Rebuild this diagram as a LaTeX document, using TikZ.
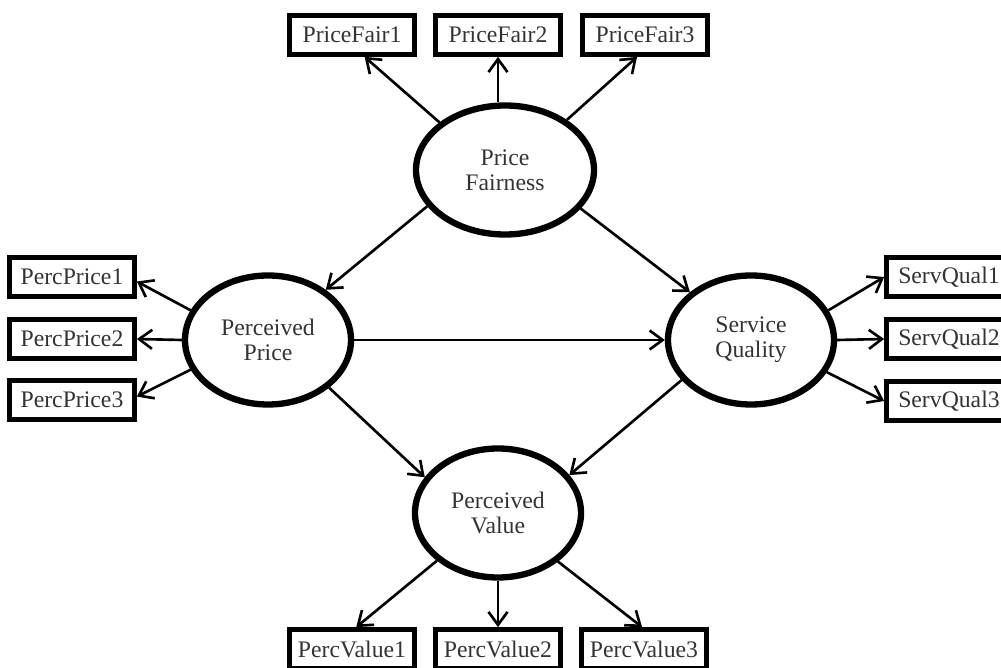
\documentclass[tikz,border=0pt]{standalone}
\usepackage{fontspec}
\setmainfont{Liberation Serif}
\usetikzlibrary{arrows.meta,shapes.geometric}

\begin{document}
\begin{tikzpicture}[
  latent/.style={ellipse,draw,line width=3.6pt,inner sep=0pt,align=center,
    minimum width=3.32cm,minimum height=2.58cm,
    font=\fontsize{13.5}{14.2}\selectfont,text=black!80},
  item/.style={rectangle,draw,line width=2.7pt,inner sep=0pt,
    minimum width=2.5cm,minimum height=0.78cm,
    font=\fontsize{13.5}{14.2}\selectfont,text=black!80},
  arr/.style={-{Straight Barb[length=2.6mm,width=3.8mm]},line width=1.5pt}
]
\useasboundingbox (0,0) rectangle (20.02,13.36);

% Constructs
\node[latent,minimum width=3.56cm] (pf) at (10.10,9.96) {Price\\Fairness};
\node[latent] (pp) at (5.36,6.56) {Perceived\\Price};
\node[latent] (sq) at (15.02,6.56) {Service\\Quality};
\node[latent] (pv) at (9.96,3.10) {Perceived\\Value};

% Indicators
\node[item] (pf1) at (7.04,12.66) {PriceFair1};
\node[item] (pf2) at (9.96,12.66) {PriceFair2};
\node[item] (pf3) at (12.90,12.66) {PriceFair3};
\node[item] (ppr1) at (1.44,7.82) {PercPrice1};
\node[item] (ppr2) at (1.44,6.58) {PercPrice2};
\node[item] (ppr3) at (1.44,5.36) {PercPrice3};
\node[item] (sq1) at (18.98,7.82) {ServQual1};
\node[item] (sq2) at (18.98,6.58) {ServQual2};
\node[item] (sq3) at (18.98,5.34) {ServQual3};
\node[item] (pv1) at (7.04,0.38) {PercValue1};
\node[item] (pv2) at (9.96,0.38) {PercValue2};
\node[item] (pv3) at (12.88,0.38) {PercValue3};

% Structural paths
\draw[arr] (pf.205) -- (pp.41);
\draw[arr] (pf.-27) -- (sq.142);
\draw[arr] (pp) -- (sq);
\draw[arr] (pp.-38) -- (pv.154);
\draw[arr] (sq.210) -- (pv.28);

% Loadings
\draw[arr] (pf.144) -- (pf1.-60);
\draw[arr] (pf2.south |- pf.north) -- (pf2.south);
\draw[arr] (pf.39) -- (pf3.-110);
\draw[arr] (pp.159) -- (ppr1.-4);
\draw[arr] (pp.west) -- (ppr2.east);
\draw[arr] (pp.201) -- (ppr3.3);
\draw[arr] (sq.21) -- (sq1.west);
\draw[arr] (sq.east) -- (sq2.west);
\draw[arr] (sq.-23) -- (sq3.west);
\draw[arr] (pv.218) -- (pv1.79);
\draw[arr] (pv.south) -- (pv2.north);
\draw[arr] (pv.-39) -- (pv3.95);
\end{tikzpicture}
\end{document}
